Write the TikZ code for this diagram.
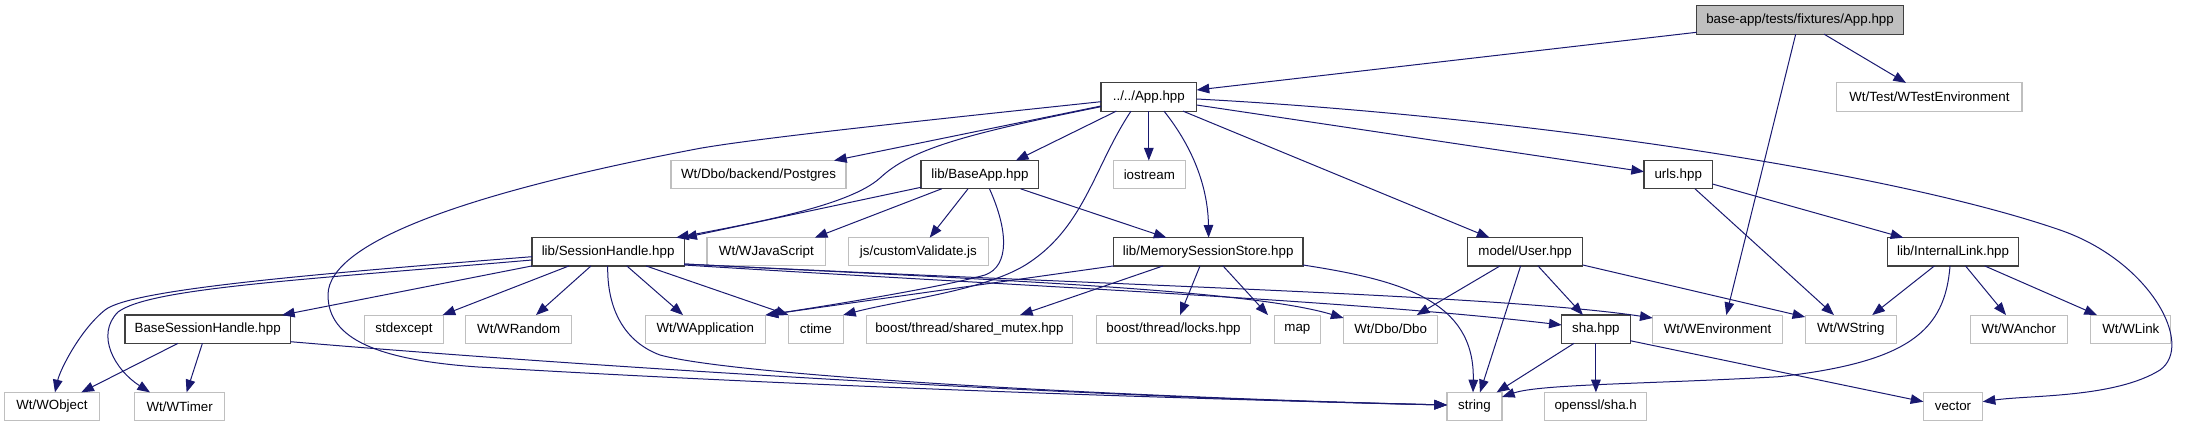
\documentclass[tikz,border=0pt]{standalone}
\usepackage{fontspec}
\setmainfont{Liberation Sans}
\usetikzlibrary{arrows.meta,calc}
\definecolor{edgec}{HTML}{191970}
\definecolor{extc}{HTML}{BFBFBF}
\definecolor{docc}{HTML}{404040}
\begin{document}
\begin{tikzpicture}[x=0.75pt,y=-0.75pt,
  nb/.style={draw, line width=0.8pt, minimum height=21.2pt, inner sep=0pt, outer sep=0pt,
    fill=white, font=\fontsize{10}{12}\selectfont, minimum width=#1*0.75pt},
  doc/.style={nb=#1, draw=docc, line width=0.9pt},
  ext/.style={nb=#1, draw=extc},
  edge/.style={draw=edgec, line width=0.75pt, -{Triangle[length=9.5pt,width=7.2pt]}}
]
\useasboundingbox (0,0) rectangle (2194,427);
% row 1
\node[doc=206.7, fill=extc] (F) at (1800,20) {base-app/tests/fixtures/App.hpp};
% row 2
\node[doc=95.6] (A) at (1148.8,97) {../../App.hpp};
\node[ext=185.2] (WTE) at (1929.4,97) {Wt/Test/WTestEnvironment};
% row 3
\node[ext=175] (PG) at (758.5,174.7) {Wt/Dbo/backend/Postgres};
\node[doc=117.8] (BA) at (979.9,174.7) {lib/BaseApp.hpp};
\node[ext=71.8] (IO) at (1149.3,174.7) {iostream};
\node[doc=68.4] (URLS) at (1678.2,174.7) {urls.hpp};
% row 4
\node[doc=152.2] (SH) at (608.1,251.8) {lib/SessionHandle.hpp};
\node[ext=118.8] (WJS) at (766.4,251.8) {Wt/WJavaScript};
\node[ext=140.2] (CV) at (918.4,251.8) {js/customValidate.js};
\node[doc=189.5] (MSS) at (1208.2,251.8) {lib/MemorySessionStore.hpp};
\node[doc=115.4] (USER) at (1525.1,251.8) {model/User.hpp};
\node[doc=131.2] (IL) at (1953.1,251.8) {lib/InternalLink.hpp};
% row 5
\node[doc=165.5] (BSH) at (207.7,329.2) {BaseSessionHandle.hpp};
\node[ext=78.9] (SE) at (404,329.2) {stdexcept};
\node[ext=106.2] (WR) at (518.7,329.2) {Wt/WRandom};
\node[ext=120.5] (WAPP) at (705.3,329.2) {Wt/WApplication};
\node[ext=54.5] (CT) at (815.8,329.2) {ctime};
\node[ext=205.7] (SM) at (969.4,329.2) {boost/thread/shared\_mutex.hpp};
\node[ext=154.5] (LK) at (1173.5,329.2) {boost/thread/locks.hpp};
\node[ext=46.3] (MAP) at (1297.4,329.2) {map};
\node[ext=94.3] (DBO) at (1390.7,329.2) {Wt/Dbo/Dbo};
\node[doc=68.4] (SHA) at (1595.9,329.2) {sha.hpp};
\node[ext=129.7] (WENV) at (1717.5,329.2) {Wt/WEnvironment};
\node[ext=91] (WSTR) at (1850.7,329.2) {Wt/WString};
\node[ext=97.5] (WANC) at (2018.8,329.2) {Wt/WAnchor};
\node[ext=80] (WLNK) at (2130.8,329.2) {Wt/WLink};
% row 6
\node[ext=95.2] (WOBJ) at (51.9,406.5) {Wt/WObject};
\node[ext=89.5] (WTMR) at (179.7,406.5) {Wt/WTimer};
\node[ext=55] (STR) at (1474.5,406.5) {string};
\node[ext=102.4] (SSL) at (1595.7,406.5) {openssl/sha.h};
\node[ext=59.3] (VEC) at (1953,406.5) {vector};

% edges from F
\draw[edge] ($(F.west)+(0,12.3)$) -- ($(A.east)+(0,-7)$);
\draw[edge] ($(F.south)+(-4.3,0)$) -- ($(WENV.north)+(8.8,0)$);
\draw[edge] ($(F.south)+(24,0)$) -- ($(WTE.north)+(-23.4,0)$);
% edges from A
\draw[edge] ($(A.west)+(0,4.7)$) .. controls (900,123) and (760,138) .. (700,148.3)
  .. controls (480,190) and (328,240) .. (328,295)
  .. controls (328,340) and (380,360) .. (478,367)
  .. controls (800,386) and (1150,398) .. ($(STR.west)+(0,-1.5)$);
\draw[edge] ($(A.west)+(0,9)$) -- ($(PG.north)+(75.5,0)$);
\draw[edge] ($(A.west)+(0,9.7)$) .. controls (960,135) and (910,150) .. (880,178)
  .. controls (850,205) and (760,222) .. ($(SH.north)+(68,0)$);
\draw[edge] ($(A.south)+(-32.5,0)$) -- ($(BA.north)+(35.9,0)$);
\draw[edge] ($(A.south)+(-17.8,0)$) .. controls (1095,165) and (1085,225) .. (1030,262)
  .. controls (990,290) and (900,300) .. (CT.north east);
\draw[edge] (A.south) -- (A.south |- IO.north);
\draw[edge] ($(A.south)+(15.2,0)$) .. controls (1195,150) and (1208,190) .. ($(MSS.north)+(0.4,0)$);
\draw[edge] ($(A.south)+(34.2,0)$) -- ($(USER.north)+(-35.6,0)$);
\draw[edge] ($(A.east)+(0,8)$) -- ($(URLS.west)+(0,-3)$);
\draw[edge] ($(A.east)+(0,2)$) .. controls (1500,115) and (1880,168) .. (2060,230)
  .. controls (2150,261) and (2195,345) .. (2160,370)
  .. controls (2115,398) and (2030,395) .. ($(VEC.east)+(0,-4.8)$);
% edges from BA
\draw[edge] ($(BA.west)+(0,12.6)$) -- (SH.north east);
\draw[edge] ($(BA.south)+(-38.3,0)$) -- ($(WJS.north)+(48.4,0)$);
\draw[edge] ($(BA.south)+(-11.9,0)$) -- ($(CV.north)+(11.3,0)$);
\draw[edge] ($(BA.south)+(40.7,0)$) -- ($(MSS.north)+(-41.7,0)$);
\draw[edge] ($(BA.south)+(9.6,0)$) .. controls (1008,230) and (1010,266) .. (985,275)
  .. controls (935,289) and (800,310) .. (WAPP.north east);
% edges from SH
\draw[edge] ($(SH.west)+(0,4.9)$) .. controls (300,275) and (130,290) .. (105,310)
  .. controls (80,330) and (60,370) .. ($(WOBJ.north)+(3.1,0)$);
\draw[edge] ($(SH.west)+(0,8.2)$) .. controls (300,280) and (150,288) .. (118,312)
  .. controls (95,335) and (115,370) .. ($(WTMR.north)+(-29.7,0)$);
\draw[edge] (SH.south west) -- ($(BSH.north)+(74.3,0)$);
\draw[edge] ($(SH.south)+(-39.1,0)$) -- ($(SE.north)+(38.6,0)$);
\draw[edge] ($(SH.south)+(-17.1,0)$) -- ($(WR.north)+(17.3,0)$);
\draw[edge] ($(SH.south)+(-0.4,0)$) .. controls (607,310) and (625,342) .. (660,355)
  .. controls (740,377) and (1150,398) .. ($(STR.west)+(0,-1.5)$);
\draw[edge] ($(SH.south)+(18.7,0)$) -- ($(WAPP.north)+(-22.3,0)$);
\draw[edge] ($(SH.south)+(37.9,0)$) -- (CT.north west);
\draw[edge] ($(SH.east)+(0,12.2)$) .. controls (1000,280) and (1250,290) .. ($(DBO.west)+(0,-11.2)$);
\draw[edge] ($(SH.east)+(0,12.2)$) .. controls (1100,285) and (1500,295) .. ($(WENV.west)+(0,-11.2)$);
\draw[edge] ($(SH.east)+(0,13.2)$) .. controls (1000,285) and (1350,300) .. ($(SHA.west)+(0,-4.2)$);
% edges from BSH
\draw[edge] ($(BSH.south)+(-29.7,0)$) -- ($(WOBJ.north)+(29.4,0)$);
\draw[edge] ($(BSH.south)+(-5.3,0)$) -- ($(WTMR.north)+(6.9,0)$);
\draw[edge] ($(BSH.east)+(0,12.5)$) .. controls (600,368) and (1100,398) .. ($(STR.west)+(0,-1.5)$);
% edges from MSS
\draw[edge] (MSS.south west) -- (WAPP.north east);
\draw[edge] ($(MSS.south)+(-45.2,0)$) -- ($(SM.north)+(50.6,0)$);
\draw[edge] ($(MSS.south)+(-8.2,0)$) -- ($(LK.north)+(6.5,0)$);
\draw[edge] ($(MSS.south)+(14.8,0)$) -- ($(MAP.north)+(-29.4,0)$);
\draw[edge] ($(MSS.east)+(0,13.2)$) .. controls (1400,280) and (1475,300) .. ($(STR.north)+(-1.5,0)$);
% edges from USER
\draw[edge] ($(USER.south)+(-25.1,0)$) -- ($(DBO.north)+(26,0)$);
\draw[edge] ($(USER.south)+(-4.5,0)$) -- ($(STR.north)+(5.5,0)$);
\draw[edge] ($(USER.south)+(12.9,0)$) -- ($(SHA.north)+(-12.9,0)$);
\draw[edge] ($(USER.east)+(0,13.2)$) -- ($(WSTR.west)+(0,-12.2)$);
% edges from URLS
\draw[edge] ($(URLS.south)+(16.8,0)$) -- ($(WSTR.north)+(-16.7,0)$);
\draw[edge] ($(URLS.east)+(0,9.3)$) -- ($(IL.north)+(-49.8,0)$);
% edges from IL
\draw[edge] ($(IL.south)+(-18.7,0)$) -- ($(WSTR.north)+(21.5,0)$);
\draw[edge] ($(IL.south)+(-3.1,0)$) .. controls (1945,330) and (1910,362) .. (1779,376.7)
  .. controls (1650,384) and (1540,384) .. ($(STR.east)+(0,-9.5)$);
\draw[edge] ($(IL.south)+(12.4,0)$) -- ($(WANC.north)+(-12.8,0)$);
\draw[edge] ($(IL.south)+(31.6,0)$) -- ($(WLNK.north)+(-33.8,0)$);
% edges from SHA
\draw[edge] ($(SHA.south)+(-21.9,0)$) -- ($(STR.north)+(22.1,0)$);
\draw[edge] (SHA.south) -- (SHA.south |- SSL.north);
\draw[edge] ($(SHA.east)+(0,11.5)$) -- ($(VEC.west)+(0,-4.8)$);
\end{tikzpicture}
\end{document}
